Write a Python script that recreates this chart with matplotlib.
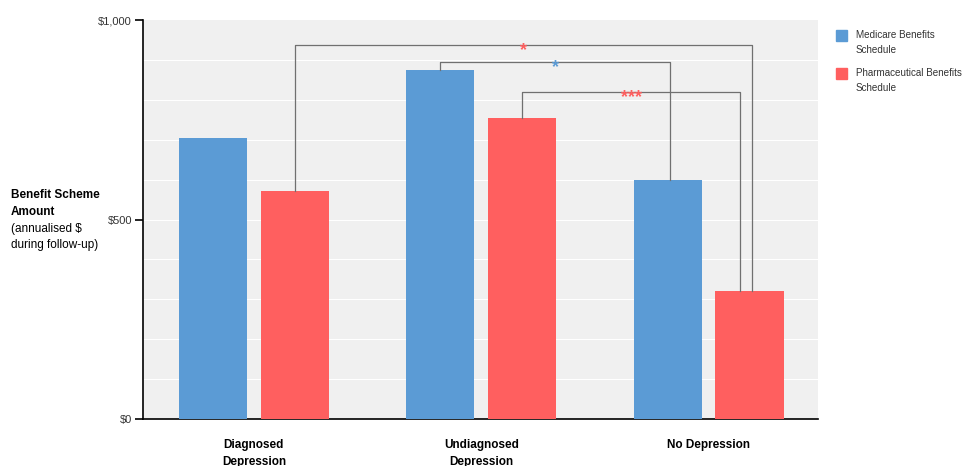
import matplotlib
matplotlib.use("Agg")
import matplotlib.pyplot as plt
import numpy as np

plt.rcParams['font.family'] = ['Liberation Sans', 'DejaVu Sans']

groups = ["Diagnosed\nDepression", "Undiagnosed\nDepression", "No Depression"]
mbs = [704, 875, 599]
pbs = [571, 754, 321]
series_names = ["Medicare Benefits\nSchedule", "Pharmaceutical Benefits\nSchedule"]
# brackets: (x_left, x_right, y_top, y_left_bottom, y_right_bottom, label, colour)
brackets = [
    (0.18, 2.19, 937, 571, 321, "*", "#FF5F5F"),
    (0.82, 1.83, 895, 875, 599, "*", "#5B9BD5"),
    (1.18, 2.14, 820, 754, 321, "***", "#FF5F5F"),
]

BLUE = "#5B9BD5"
RED = "#FF5F5F"

fig = plt.figure(figsize=(9.63, 4.66), dpi=100)
ax = fig.add_axes([0.1485, 0.1009, 0.7006, 0.8561])
ax.set_facecolor("#F0F0F0")
x = np.arange(len(groups))
w = 0.30
ax.bar(x - 0.18, mbs, w, color=BLUE, zorder=3)
ax.bar(x + 0.18, pbs, w, color=RED, zorder=3)

for yy in range(100, 1000, 100):
    ax.axhline(yy, color="white", lw=0.8, zorder=1)

for x1, x2, yt, y1, y2, lab, c in brackets:
    ax.plot([x1, x1, x2, x2], [y1, yt, yt, y2], color="#707070", lw=0.9, zorder=4)
    ax.text((x1 + x2) / 2, yt - 14, lab, color=c, ha="center", va="center",
            fontsize=13, fontweight="bold", zorder=5)

ax.set_xlim(-0.488, 2.48)
ax.set_ylim(0, 1000)
ax.set_yticks([0, 500, 1000])
ax.set_yticklabels(["$0", "$500", "$1,000"], fontsize=8, color="#333333")
ax.set_xticks([])
for s in ["top", "right"]:
    ax.spines[s].set_visible(False)
ax.spines["left"].set_linewidth(1.2)
ax.spines["bottom"].set_linewidth(1.2)
ax.tick_params(axis="y", length=6, width=1.2, pad=2)

for xi, g in zip(x, groups):
    ax.text(xi, -50, g, ha="center", va="top", fontsize=8.5, fontweight="bold",
            linespacing=1.55, transform=ax.transData, clip_on=False)

fig.text(0.011, 0.533, "Benefit Scheme\nAmount", fontsize=8.5, fontweight="bold",
         ha="left", va="bottom", linespacing=1.5)
fig.text(0.011, 0.522, "(annualised $\nduring follow-up)", fontsize=8.5,
         ha="left", va="top", linespacing=1.5)

for i, (name, c) in enumerate(zip(series_names, [BLUE, RED])):
    ytop = 30 + i * 38
    fig.patches.append(plt.Rectangle((836 / 963, 1 - (ytop + 11) / 466), 11 / 963, 11 / 466,
                                     transform=fig.transFigure, color=c))
    fig.text(856 / 963, 1 - (ytop + 0) / 466, name, fontsize=7.1, ha="left", va="top",
             color="#333333", linespacing=1.6)

fig.savefig("out.png", dpi=100)
